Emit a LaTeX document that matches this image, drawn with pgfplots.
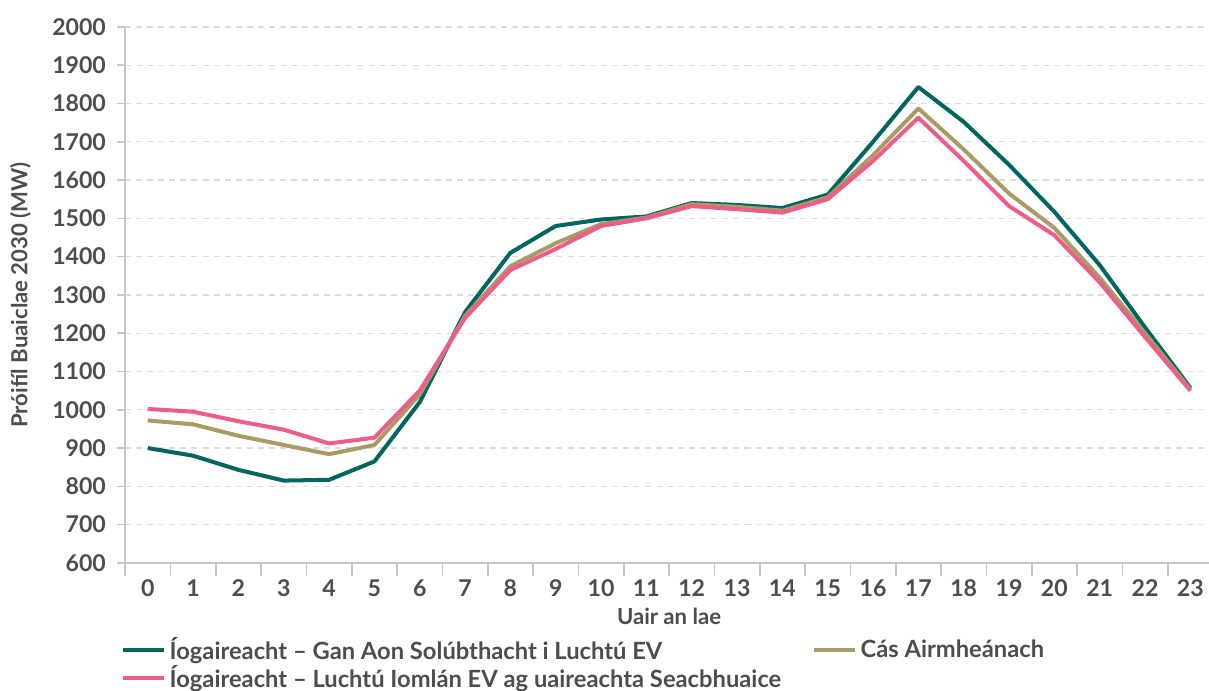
\documentclass[border=0pt]{standalone}
\usepackage{fontspec}
\setmainfont{Lato}
\usepackage{pgfplots}
\pgfplotsset{compat=1.18}
\usetikzlibrary{calc}
\definecolor{teal1}{HTML}{00665E}
\definecolor{gold1}{HTML}{A99A66}
\definecolor{pink1}{HTML}{EC5E87}
\definecolor{txt}{HTML}{4D4D4D}
\definecolor{axgray}{HTML}{C6C6CE}
\definecolor{gridgray}{HTML}{DCDCDC}
\begin{document}
\begin{tikzpicture}
\begin{axis}[
  name=ax,
  scale only axis, width=541pt, height=266.5pt,
  xmin=-0.5, xmax=23.5, ymin=600, ymax=2000,
  axis x line*=bottom, axis y line*=left,
  axis line style={axgray, line width=0.8pt},
  xtick={0,...,23},
  minor xtick={-0.5,0.5,...,23.5},
  ytick={600,700,...,2000},
  tick align=outside,
  major tick length=4pt, minor tick length=6.5pt,
  major x tick style={draw=none},
  tick style={axgray, line width=0.8pt},
  minor tick style={axgray, line width=0.8pt},
  ymajorgrids,
  grid style={gridgray, dash pattern=on 3pt off 2.5pt, line width=0.6pt},
  /pgf/number format/assume math mode=true,
  /pgf/number format/1000 sep={},
  ticklabel style={font=\bfseries\fontsize{11.5}{13}\selectfont, text=txt},
  xticklabel style={yshift=-1pt},
  yticklabel style={xshift=-2pt},
  xlabel={Uair an lae},
  ylabel={Próifíl Buaiclae 2030 (MW)},
  every axis x label/.style={at={(axis description cs:0.5,0)}, anchor=center, yshift=-26.4pt,
    font=\bfseries\fontsize{11}{13}\selectfont, text=txt},
  every axis y label/.style={at={(axis description cs:-0.0961,0.5)}, rotate=90, anchor=center,
    font=\bfseries\fontsize{11}{13}\selectfont, text=txt},
  legend columns=2,
  legend cell align=left,
  legend style={at={(0,0)}, anchor=north west, yshift=-33pt, xshift=-5pt,
    draw=none, fill=none, font=\bfseries\fontsize{11.8}{13}\selectfont, text=txt,
    /tikz/every even column/.append style={column sep=13.5pt},
    row sep=-2.5pt},
  legend image code/.code={\draw[#1, line width=2pt] (0pt,0pt) -- (20pt,0pt);},
  line join=round,
]
\addplot[teal1, line width=2pt] coordinates {
(0,900) (1,880) (2,843) (3,815) (4,817) (5,865) (6,1020) (7,1255) (8,1410) (9,1480)
(10,1497) (11,1505) (12,1540) (13,1535) (14,1527) (15,1562) (16,1700) (17,1843)
(18,1752) (19,1640) (20,1517) (21,1378) (22,1215) (23,1057)};
\addlegendentry{Íogaireacht – Gan Aon Solúbthacht i Luchtú EV}
\addplot[gold1, line width=2pt] coordinates {
(0,972) (1,962) (2,932) (3,908) (4,884) (5,908) (6,1040) (7,1245) (8,1375) (9,1435)
(10,1485) (11,1502) (12,1537) (13,1530) (14,1520) (15,1555) (16,1665) (17,1787)
(18,1680) (19,1565) (20,1475) (21,1345) (22,1200) (23,1053)};
\addlegendentry{Cás Airmheánach}
\addplot[pink1, line width=2pt] coordinates {
(0,1002) (1,995) (2,970) (3,948) (4,912) (5,927) (6,1050) (7,1240) (8,1365) (9,1420)
(10,1480) (11,1500) (12,1532) (13,1524) (14,1515) (15,1550) (16,1650) (17,1763)
(18,1650) (19,1532) (20,1456) (21,1333) (22,1190) (23,1050)};
\addlegendentry{Íogaireacht – Luchtú Iomlán EV ag uaireachta Seacbhuaice}
\end{axis}
\pgfresetboundingbox
\path[use as bounding box] ($(ax.south west)+(-62.2pt,-63.6pt)$) rectangle ($(ax.north east)+(-2pt,13.4pt)$);
\end{tikzpicture}
\end{document}
